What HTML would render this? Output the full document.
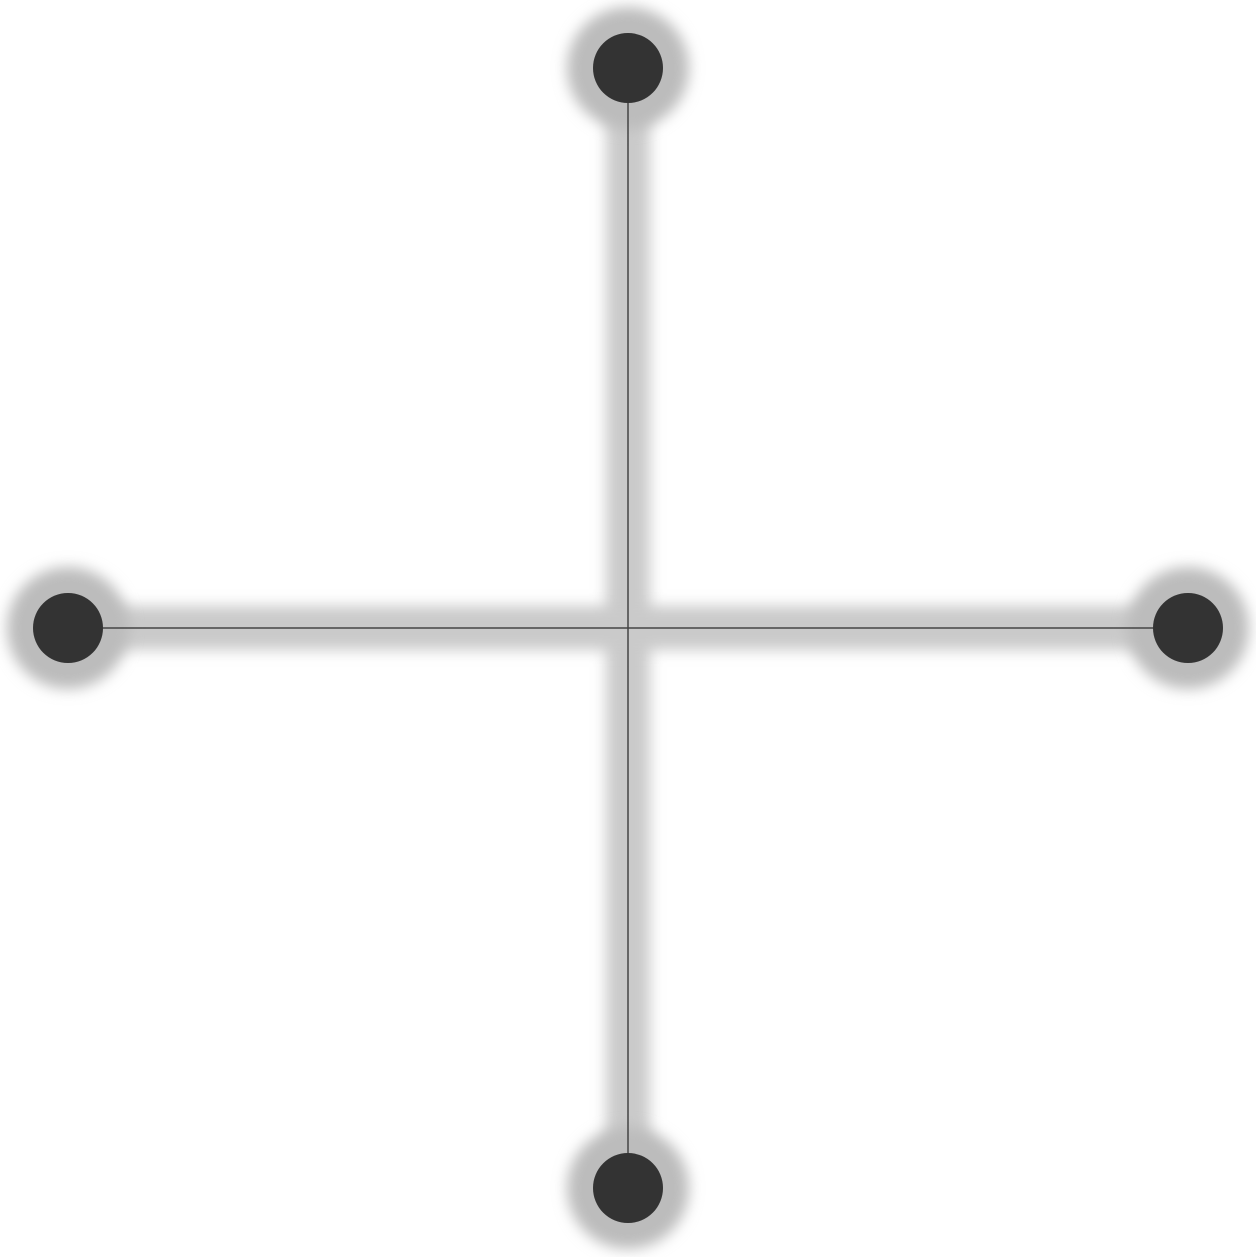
<!DOCTYPE html>
<html><head><meta charset="utf-8"><style>
html,body{margin:0;padding:0;background:#fff;width:1256px;height:1257px;overflow:hidden}
svg{display:block}
</style></head><body>
<svg id="chart" width="1256" height="1257" viewBox="0 0 1256 1257">
<defs>
<filter id="blur" filterUnits="userSpaceOnUse" x="0" y="0" width="1256" height="1257"><feGaussianBlur stdDeviation="7"/></filter>
</defs>
<g id="halos"></g><g id="edges"></g><g id="nodes"></g>
</svg>
<script>
const nodeNames = ["center","top","left","right","bottom"];
const nodeX = [0, 0, -1, 1, 0];
const nodeY = [0, 1, 0, 0, -1];
const edgeFrom = [1, 2];
const edgeTo = [4, 3];
const nodeVisible = [false, true, true, true, true];

const cx = 628, cy = 628, unit = 560;
const sx = v => cx + v * unit;
const sy = v => cy - v * unit;
const NS = "http://www.w3.org/2000/svg";
const halos = document.getElementById("halos");
const edges = document.getElementById("edges");
const nodes = document.getElementById("nodes");

for (let i = 0; i < edgeFrom.length; i++) {
  const a = edgeFrom[i], b = edgeTo[i];
  const h = document.createElementNS(NS, "line");
  h.setAttribute("x1", sx(nodeX[a])); h.setAttribute("y1", sy(nodeY[a]));
  h.setAttribute("x2", sx(nodeX[b])); h.setAttribute("y2", sy(nodeY[b]));
  h.setAttribute("stroke", "#cacaca"); h.setAttribute("stroke-width", "44");
  h.setAttribute("filter", "url(#blur)");
  
  
  halos.appendChild(h);
  const l = document.createElementNS(NS, "line");
  l.setAttribute("x1", sx(nodeX[a])); l.setAttribute("y1", sy(nodeY[a]));
  l.setAttribute("x2", sx(nodeX[b])); l.setAttribute("y2", sy(nodeY[b]));
  l.setAttribute("stroke", "#444"); l.setAttribute("stroke-width", "1.5");
  
  
  edges.appendChild(l);
}
for (let i = 0; i < nodeNames.length; i++) {
  if (!nodeVisible[i]) continue;
  const h = document.createElementNS(NS, "circle");
  h.setAttribute("cx", sx(nodeX[i])); h.setAttribute("cy", sy(nodeY[i]));
  h.setAttribute("r", "61"); h.setAttribute("fill", "#bcbcbc");
  h.setAttribute("filter", "url(#blur)");
  
  
  halos.appendChild(h);
  const c = document.createElementNS(NS, "circle");
  c.setAttribute("cx", sx(nodeX[i])); c.setAttribute("cy", sy(nodeY[i]));
  c.setAttribute("r", "35"); c.setAttribute("fill", "#333");
  
  
  nodes.appendChild(c);
}
</script>
</body></html>
